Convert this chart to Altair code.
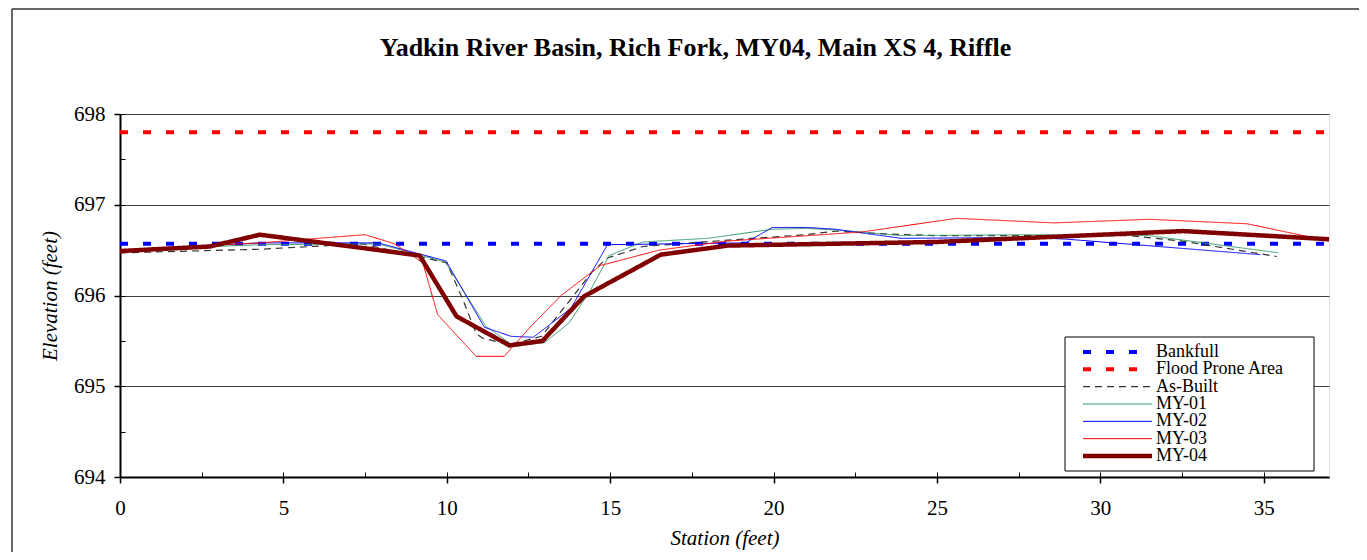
import altair as alt
import pandas as pd

# ---- data ----
series_order = ["Bankfull", "Flood Prone Area", "As-Built", "MY-01", "MY-02", "MY-03", "MY-04"]

bankfull_x = [0, 37]
bankfull_y = [696.57, 696.57]

flood_x = [0, 37]
flood_y = [697.80, 697.80]

asbuilt_x = [0, 4.3, 7.4, 10.0, 10.5, 10.9, 11.1, 11.9, 12.9, 14.45, 14.9, 16.0, 18.6, 21.0, 21.9, 23.4, 24.9, 27.8, 30.9, 32.5, 35.4]
asbuilt_y = [696.47, 696.51, 696.57, 696.36, 695.95, 695.58, 695.53, 695.46, 695.55, 696.26, 696.41, 696.54, 696.61, 696.67, 696.71, 696.68, 696.66, 696.66, 696.66, 696.60, 696.43]

my01_x = [0, 4.3, 7.9, 9.95, 11.2, 12.07, 12.99, 13.75, 14.4, 14.97, 16.0, 18.0, 19.96, 21.0, 22.0, 23.9, 27.8, 31.5, 35.45]
my01_y = [696.50, 696.56, 696.57, 696.37, 695.66, 695.44, 695.48, 695.70, 696.06, 696.44, 696.59, 696.63, 696.73, 696.74, 696.72, 696.66, 696.67, 696.66, 696.47]

my02_x = [0, 4.3, 7.9, 9.98, 11.15, 11.97, 12.65, 13.8, 14.92, 19.15, 19.96, 21.0, 21.9, 23.9, 27.8, 29.0, 34.9]
my02_y = [696.50, 696.58, 696.58, 696.38, 695.65, 695.55, 695.54, 695.86, 696.56, 696.58, 696.75, 696.75, 696.73, 696.63, 696.64, 696.62, 696.45]

my03_x = [0, 2.6, 4.3, 7.5, 8.4, 9.27, 9.72, 10.9, 11.76, 12.6, 13.5, 14.7, 16.5, 18.6, 22.7, 25.6, 28.6, 31.5, 34.5, 37.0]
my03_y = [696.50, 696.55, 696.58, 696.67, 696.57, 696.36, 695.79, 695.33, 695.33, 695.67, 696.00, 696.33, 696.50, 696.60, 696.70, 696.85, 696.80, 696.84, 696.79, 696.60]

my04_x = [0, 2.75, 4.28, 7.5, 9.17, 10.3, 11.92, 12.93, 14.2, 16.55, 18.6, 25.0, 32.54, 37.0]
my04_y = [696.49, 696.54, 696.67, 696.52, 696.44, 695.77, 695.45, 695.50, 695.99, 696.45, 696.55, 696.59, 696.71, 696.62]

x_major = [0, 5, 10, 15, 20, 25, 30, 35]
x_minor = [0, 2.5, 5, 7.5, 10, 12.5, 15, 17.5, 20, 22.5, 25, 27.5, 30, 32.5, 35]
y_major = [694, 695, 696, 697, 698]
y_minor = [694, 694.5, 695, 695.5, 696, 696.5, 697, 697.5, 698]

title_text = "Yadkin River Basin, Rich Fork, MY04, Main XS 4, Riffle"

# ---- styles ----
colors = ["#0000ff", "#ff0000", "#333333", "#339966", "#0000ff", "#ff0000", "#800000"]
dashes = [[8, 15], [8, 15], [7, 5], [1, 0], [1, 0], [1, 0], [1, 0]]
widths = [4, 4, 1.2, 1, 1, 1, 4.5]

all_series = [
    ("Bankfull", bankfull_x, bankfull_y),
    ("Flood Prone Area", flood_x, flood_y),
    ("As-Built", asbuilt_x, asbuilt_y),
    ("MY-01", my01_x, my01_y),
    ("MY-02", my02_x, my02_y),
    ("MY-03", my03_x, my03_y),
    ("MY-04", my04_x, my04_y),
]
rows = []
for s_idx, (name, xs, ys) in enumerate(all_series):
    for i, (xv, yv) in enumerate(zip(xs, ys)):
        rows.append({"series": name, "station": xv, "elev": yv, "idx": i, "s": s_idx})
df = pd.DataFrame(rows)
legend_df = pd.DataFrame({"series": series_order})

FONT = "Liberation Serif"
W, H = 1209, 363

x_scale = alt.Scale(domain=[0, 37], nice=False, zero=False)
y_scale = alt.Scale(domain=[694, 698], nice=False, zero=False)
color_enc = alt.Color("series:N", scale=alt.Scale(domain=series_order, range=colors), legend=None)
dash_enc = alt.StrokeDash("series:N", scale=alt.Scale(type="ordinal", domain=series_order, range=dashes), legend=None)
width_enc = alt.StrokeWidth("series:N", scale=alt.Scale(type="ordinal", domain=series_order, range=widths), legend=None)

lines = alt.Chart(df).mark_line(clip=True).encode(
    x=alt.X("station:Q", scale=x_scale, axis=alt.Axis(
        values=x_major, title="Station (feet)", titleFont=FONT, titleFontSize=21,
        titleFontStyle="italic", titleFontWeight="normal", titleColor="black", titlePadding=9,
        labelFont=FONT, labelFontSize=21, labelColor="black", labelPadding=14,
        tickSize=6, tickColor="black", tickWidth=1.5, domainColor="black", domainWidth=2,
        grid=False, labelFlush=False)),
    y=alt.Y("elev:Q", scale=y_scale, axis=alt.Axis(
        values=y_major, title="Elevation (feet)", titleFont=FONT, titleFontSize=21,
        titleFontStyle="italic", titleFontWeight="normal", titleColor="black", titlePadding=13,
        labelFont=FONT, labelFontSize=21, labelColor="black", labelPadding=9,
        tickSize=6, tickColor="black", tickWidth=1.5, domainColor="black", domainWidth=2,
        grid=True, gridColor="#404040", gridWidth=1, labelFlush=False, format="d")),
    color=color_enc,
    strokeDash=dash_enc,
    strokeWidth=width_enc,
    order="idx:Q",
    detail="s:Q",
)

minor = alt.Chart(df).mark_line(opacity=0).encode(
    x=alt.X("station:Q", scale=x_scale, axis=alt.Axis(
        orient="top", offset=-H, values=x_minor, labels=False, domain=False, grid=False,
        tickSize=5, tickColor="black", tickWidth=1, title=None)),
    y=alt.Y("elev:Q", scale=y_scale, axis=alt.Axis(
        orient="right", offset=-W, values=y_minor, labels=False, domain=False, grid=False,
        tickSize=5, tickColor="black", tickWidth=1, title=None)),
    detail="s:Q",
)

# outer chart frame
frame_df = pd.DataFrame({"k": [0]})
frame_top = alt.Chart(frame_df).mark_rule(color="#333333", strokeWidth=1.5, clip=False).encode(
    x=alt.value(-108), x2=alt.value(1255), y=alt.value(-105)
)
frame_left = alt.Chart(frame_df).mark_rule(color="#333333", strokeWidth=1.5, clip=False).encode(
    x=alt.value(-108), y=alt.value(-105), y2=alt.value(446)
)

# legend drawn from the same colour / dash / width scales
leg_y = alt.Y("series:N", scale=alt.Scale(type="point", domain=series_order, range=[238, 342], padding=0), axis=None)
leg_box = alt.Chart(frame_df).mark_rect(fill="white", stroke="black", strokeWidth=1, clip=False).encode(
    x=alt.value(945), x2=alt.value(1194), y=alt.value(223), y2=alt.value(357)
)
leg_sym = alt.Chart(legend_df).mark_rule(clip=False).encode(
    x=alt.value(963), x2=alt.value(1032), y=leg_y,
    color=color_enc, strokeDash=dash_enc, strokeWidth=width_enc,
)
leg_txt = alt.Chart(legend_df).mark_text(
    align="left", baseline="middle", font=FONT, fontSize=18, color="black", clip=False
).encode(x=alt.value(1036), y=leg_y, text="series:N")

chart = alt.layer(frame_top, frame_left, minor, lines, leg_box, leg_sym, leg_txt).resolve_scale(
    y="independent"
).resolve_axis(
    x="independent", y="independent"
).properties(
    width=W, height=H,
    autosize=alt.AutoSizeParams(type="none"),
    padding={"left": 112, "top": 106, "right": 30, "bottom": 75},
    title=alt.TitleParams(
        text=title_text, font=FONT, fontSize=26, fontWeight="bold", color="black",
        anchor="middle", dx=-29, offset=-74, baseline="alphabetic",
    ),
).configure_view(stroke="black", strokeWidth=2).configure(background="white")

chart.save("out.html", embed_options={"renderer": "svg", "actions": False})
